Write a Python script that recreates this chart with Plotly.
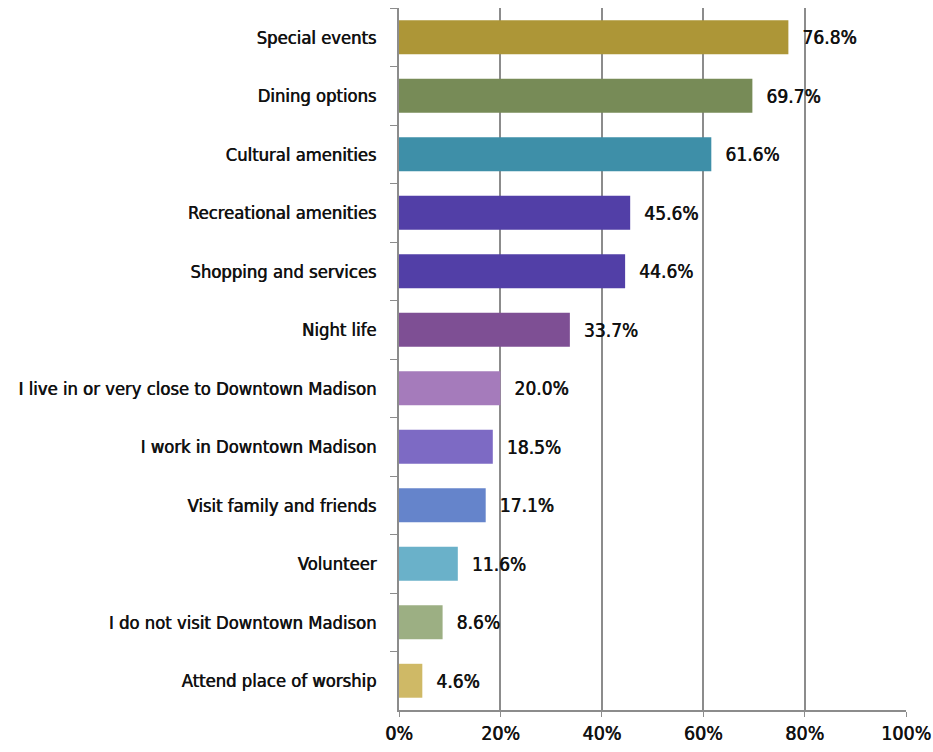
import plotly.graph_objects as go

categories = [
    "Special events",
    "Dining options",
    "Cultural amenities",
    "Recreational amenities",
    "Shopping and services",
    "Night life",
    "I live in or very close to Downtown Madison",
    "I work in Downtown Madison",
    "Visit family and friends",
    "Volunteer",
    "I do not visit Downtown Madison",
    "Attend place of worship",
]
values = [76.8, 69.7, 61.6, 45.6, 44.6, 33.7, 20.0, 18.5, 17.1, 11.6, 8.6, 4.6]
colors = [
    "#AD9637", "#778B57", "#3E8FA8", "#523FA7", "#523FA7", "#7E4F94",
    "#A57BBB", "#7D6AC4", "#6584CB", "#6AB1C9", "#9CAF83", "#CFB966",
]
x_ticks = [0, 20, 40, 60, 80, 100]
x_tick_labels = ["0%", "20%", "40%", "60%", "80%", "100%"]

FONT = "DejaVu Sans Condensed, Liberation Sans Narrow, sans-serif"
SHADOW = "0.6px 0px 0px #111111"

fig = go.Figure(
    go.Bar(
        y=categories,
        x=values,
        orientation="h",
        marker=dict(color=colors, line=dict(width=0)),
        text=[f"\u00a0\u00a0{v:.1f}%" for v in values],
        textposition="outside",
        textfont=dict(family=FONT, size=19, color="#111111", shadow=SHADOW),
        cliponaxis=False,
        width=0.58,
    )
)

fig.update_layout(
    width=933,
    height=752,
    margin=dict(l=399, r=27, t=8, b=42, autoexpand=False),
    paper_bgcolor="white",
    plot_bgcolor="white",
    showlegend=False,
    font=dict(family=FONT, size=17, color="#111111"),
    xaxis=dict(
        range=[0, 100],
        tickvals=x_ticks,
        ticktext=x_tick_labels,
        showgrid=True,
        gridcolor="#8C8C8C",
        gridwidth=1.5,
        zeroline=False,
        showline=True,
        linecolor="#8C8C8C",
        linewidth=1.5,
        ticks="outside",
        ticklen=5,
        tickcolor="#8C8C8C",
        tickfont=dict(family=FONT, size=19.5, color="#111111", shadow=SHADOW),
        automargin=False,
        fixedrange=True,
    ),
    yaxis=dict(
        autorange="reversed",
        showline=True,
        linecolor="#8C8C8C",
        linewidth=2,
        ticks="outside",
        tickson="boundaries",
        ticklen=7,
        tickcolor="#8C8C8C",
        showgrid=False,
        tickfont=dict(family=FONT, size=18.3, color="#111111", shadow=SHADOW),
        ticklabelstandoff=17,
        automargin=False,
        fixedrange=True,
    ),
)

fig.write_html(
    "out.html",
    config={"displayModeBar": False},
    post_script="document.body.style.margin='0';document.body.style.overflow='hidden';",
)
